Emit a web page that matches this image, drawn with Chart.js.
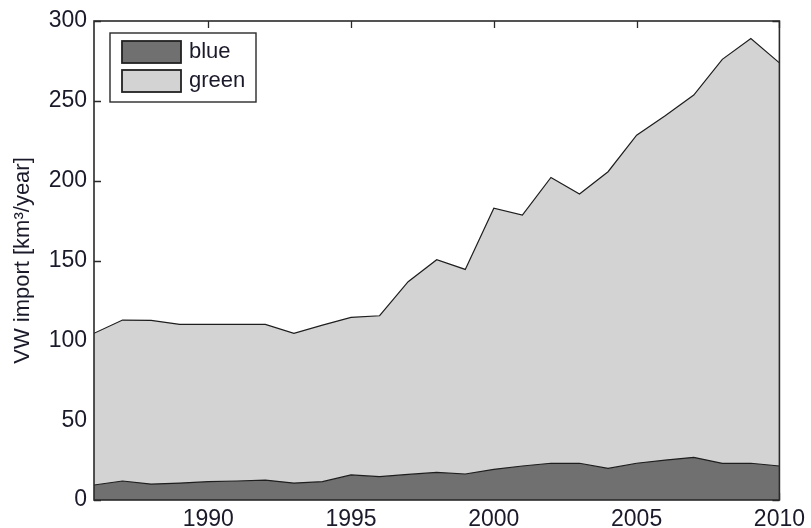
<!DOCTYPE html>
<html>
<head>
<meta charset="utf-8">
<script src="https://cdn.jsdelivr.net/npm/chart.js@4/dist/chart.umd.min.js"></script>
<style>
body{margin:0;background:#fff;}
#wrap{width:811px;height:528px;position:relative;}
</style>
</head>
<body>
<div id="wrap"><canvas id="c"></canvas></div>
<script>
const years=[1986,1987,1988,1989,1990,1991,1992,1993,1994,1995,1996,1997,1998,1999,2000,2001,2002,2003,2004,2005,2006,2007,2008,2009,2010];
const blueValues=[9.4,11.9,10,10.6,11.5,11.9,12.5,10.6,11.5,15.7,14.6,16,17.3,16.3,19.2,21.3,23,23,19.8,23,25,26.7,23,23,21.3];
const greenValues=[95.0,100.8,102.5,99.4,98.5,98.1,97.5,93.8,98.0,98.7,100.8,120.7,133.2,128.1,163.6,157.2,179,168.6,185.8,205.5,215.6,226.9,253,266,252.5];
const xTickValues=[1990,1995,2000,2005,2010];
const yTickValues=[0,50,100,150,200,250,300];
const seriesNames=["blue","green"];

const fontFam="'Liberation Sans', Arial, sans-serif";
const txtColor="#1a1a2a";
const axisColor="#2a2a2a";

function pts(vals){return years.map((y,i)=>({x:y,y:vals[i]}));}

// inward ticks, drawn before the areas so fills cover them (like matlab)
const tickPlugin={
    id:"inTicks",
    beforeDatasetsDraw(chart){
        const ctx=chart.ctx,a=chart.chartArea,xs=chart.scales.x,ys=chart.scales.y;
        ctx.save();
        ctx.strokeStyle=axisColor;ctx.lineWidth=1.3;
        ctx.beginPath();
        xTickValues.forEach(v=>{
            const px=Math.round(xs.getPixelForValue(v))+0.5;
            ctx.moveTo(px,a.top);ctx.lineTo(px,a.top+7);
            ctx.moveTo(px,a.bottom);ctx.lineTo(px,a.bottom-7);
        });
        yTickValues.forEach(v=>{
            const py=Math.round(ys.getPixelForValue(v))+0.5;
            ctx.moveTo(a.left,py);ctx.lineTo(a.left+7,py);
            ctx.moveTo(a.right,py);ctx.lineTo(a.right-7,py);
        });
        ctx.stroke();
        ctx.restore();
    },
    afterDraw(chart){
        const ctx=chart.ctx,a=chart.chartArea;
        ctx.save();
        // axes box
        ctx.strokeStyle=axisColor;ctx.lineWidth=1.6;
        ctx.strokeRect(a.left,a.top,a.right-a.left,a.bottom-a.top);
        // legend inside top-left
        const lx=a.left+16,ly=a.top+12,lw=146,lh=69;
        ctx.fillStyle="#fff";ctx.fillRect(lx,ly,lw,lh);
        ctx.lineWidth=1.4;ctx.strokeRect(lx,ly,lw,lh);
        ctx.font="22px "+fontFam;ctx.textBaseline="middle";ctx.textAlign="left";
        chart.data.datasets.forEach((ds,i)=>{
            const sy=ly+8+i*29;
            ctx.fillStyle=ds.backgroundColor;ctx.fillRect(lx+12,sy,59,22);
            ctx.strokeStyle="#222";ctx.lineWidth=1.8;ctx.strokeRect(lx+12,sy,59,22);
            ctx.fillStyle=txtColor;ctx.fillText(ds.label,lx+79,sy+11);
        });
        ctx.restore();
    }
};

const ctx=document.getElementById("c").getContext("2d");
const chart=new Chart(ctx,{
    type:"line",
    data:{datasets:[
        {label:seriesNames[0],data:pts(blueValues),backgroundColor:"#707070",borderColor:"#1e1e1e",borderWidth:1.2,fill:"origin",pointRadius:0,tension:0},
        {label:seriesNames[1],data:pts(greenValues),backgroundColor:"#d3d3d3",borderColor:"#1e1e1e",borderWidth:1.2,fill:"-1",pointRadius:0,tension:0}
    ]},
    options:{
        responsive:true,maintainAspectRatio:false,animation:false,
        layout:{padding:{top:21,right:26,left:0,bottom:0}},
        plugins:{legend:{display:false},tooltip:{enabled:false}},
        scales:{
            x:{type:"linear",min:1986,max:2010,
                grid:{display:false,drawTicks:false},border:{display:false},
                afterBuildTicks(s){s.ticks=xTickValues.map(v=>({value:v}));},
                afterFit(s){s.height=28;},
                ticks:{color:txtColor,font:{family:fontFam,size:23},padding:6,maxRotation:0,autoSkip:false,callback:v=>String(v)}
            },
            y:{stacked:true,min:0,max:300,
                grid:{display:false,drawTicks:false},border:{display:false},
                afterBuildTicks(s){s.ticks=yTickValues.map(v=>({value:v}));},
                afterFit(s){s.width=94;},
                ticks:{color:txtColor,font:{family:fontFam,size:23},padding:7},
                title:{display:true,text:"VW import [km³/year]",color:txtColor,font:{family:fontFam,size:22},padding:{top:10,bottom:0}}
            }
        }
    },
    plugins:[tickPlugin]
});
</script>
</body>
</html>
